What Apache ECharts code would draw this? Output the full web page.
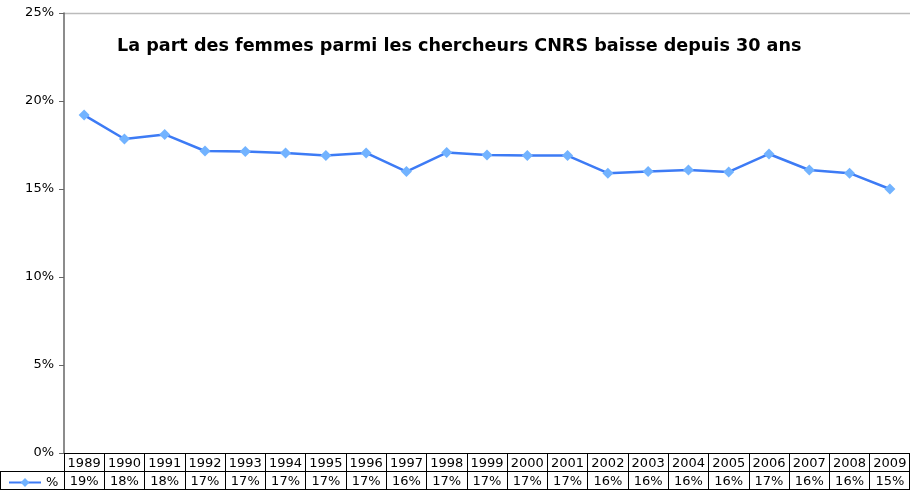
<!DOCTYPE html>
<html>
<head>
<meta charset="utf-8">
<script src="https://cdn.jsdelivr.net/npm/echarts@6/dist/echarts.min.js"></script>
<style>
html, body { margin: 0; padding: 0; background: #fff; }
#main { width: 910px; height: 490px; }
</style>
</head>
<body>
<div id="main"></div>
<script>
// années et part des femmes (%)
var years = ['1989', '1990', '1991', '1992', '1993', '1994', '1995', '1996', '1997', '1998', '1999',
	'2000', '2001', '2002', '2003', '2004', '2005', '2006', '2007', '2008', '2009'];
var share = [19.2, 17.84, 18.1, 17.16, 17.13, 17.05, 16.9, 17.05, 15.99, 17.07, 16.93,
	16.9, 16.9, 15.9, 16.0, 16.08, 15.97, 16.99, 16.08, 15.9, 15.0];
var titleText = 'La part des femmes parmi les chercheurs CNRS baisse depuis 30 ans';
var seriesName = '%';

var font = 'Verdana, "DejaVu Sans", sans-serif';
var plotLeft = 64, plotTop = 13, plotBottom = 37;
var W = 910, H = 490;

var chart = echarts.init(document.getElementById('main'));
var option = {
	animation: false,
	textStyle: { fontFamily: font },
	title: {
		text: titleText,
		left: 112,
		top: 32,
		textStyle: { fontSize: 17.6, fontWeight: 'bold', color: '#000', fontFamily: font }
	},
	legend: {
		left: 8,
		top: 476,
		padding: 0,
		itemWidth: 32,
		itemHeight: 11,
		itemGap: 4,
		textStyle: { fontSize: 13, color: '#000', fontFamily: font },
		data: [seriesName]
	},
	grid: {
		left: plotLeft,
		right: 0,
		top: plotTop,
		bottom: plotBottom,
		containLabel: false
	},
	xAxis: [{
		type: 'category',
		data: years,
		boundaryGap: true,
		axisLine: { show: true, lineStyle: { color: '#000', width: 1 } },
		axisTick: { show: true, inside: false, length: plotBottom, lineStyle: { color: '#000' } },
		axisLabel: { show: true, interval: 0, margin: 4, fontSize: 13, color: '#000' }
	}, {
		type: 'category',
		data: years,
		position: 'bottom',
		offset: 18,
		boundaryGap: true,
		axisLine: { show: false },
		axisTick: { show: false },
		axisLabel: {
			show: true, interval: 0, margin: 4, fontSize: 13, color: '#000',
			formatter: function (v, i) { return Math.round(share[i]) + '%'; }
		}
	}],
	yAxis: {
		type: 'value',
		min: 0,
		max: 25,
		interval: 5,
		axisLine: { show: true, lineStyle: { color: '#666', width: 1.5 } },
		axisTick: { show: true, length: 5, lineStyle: { color: '#666' } },
		axisLabel: { fontSize: 13, color: '#000', margin: 10, formatter: '{value}%' },
		splitLine: { show: false }
	},
	series: [{
		name: seriesName,
		type: 'line',
		data: share,
		symbol: 'diamond',
		symbolSize: 11,
		lineStyle: { color: '#3d7bf5', width: 2.5 },
		itemStyle: { color: '#72b3ff', borderWidth: 0 }
	}],
	graphic: [
		// bord supérieur de la zone de tracé
		{ type: 'line', shape: { x1: plotLeft, y1: plotTop + 0.5, x2: W, y2: plotTop + 0.5 },
			style: { stroke: '#bbb', lineWidth: 1.5 } },
		// lignes du tableau de données
		{ type: 'line', shape: { x1: 0, y1: 471.5, x2: W, y2: 471.5 }, style: { stroke: '#000', lineWidth: 1 } },
		{ type: 'line', shape: { x1: 0, y1: 489.5, x2: W, y2: 489.5 }, style: { stroke: '#000', lineWidth: 1 } },
		{ type: 'line', shape: { x1: 0.5, y1: 471, x2: 0.5, y2: H }, style: { stroke: '#000', lineWidth: 1 } },
		{ type: 'line', shape: { x1: W - 0.5, y1: H - plotBottom, x2: W - 0.5, y2: H }, style: { stroke: '#000', lineWidth: 1 } }
	]
};
chart.setOption(option);
</script>
</body>
</html>
